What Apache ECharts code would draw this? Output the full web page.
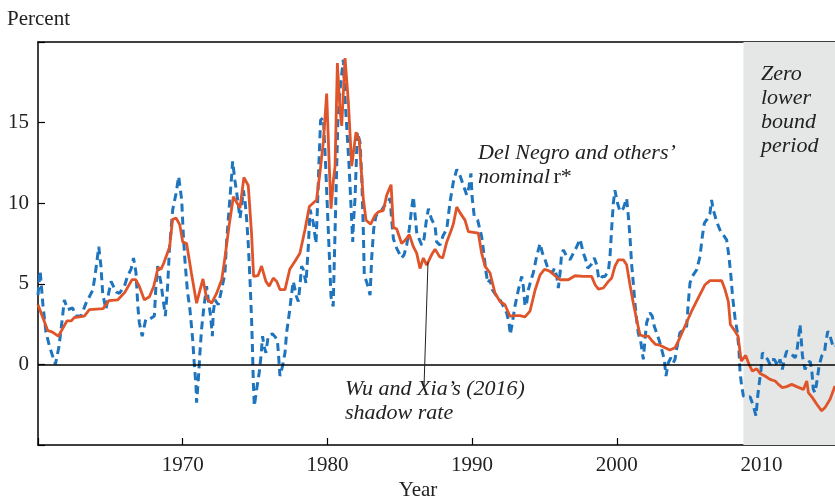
<!DOCTYPE html>
<html>
<head>
<meta charset="utf-8">
<script src="https://cdn.jsdelivr.net/npm/echarts@6/dist/echarts.min.js"></script>
<style>html,body{margin:0;padding:0;background:#fff;overflow:hidden}#c{width:835px;height:502px}</style>
</head>
<body>
<div id="c"></div>
<script>
// Wu and Xia (2016) shadow rate (fed funds before ZLB)
const wuYears = [1960.0,1960.67,1961.0,1961.4,1961.6,1962.0,1962.3,1962.5,1963.2,1963.55,1964.5,1964.9,1965.5,1966.0,1966.5,1966.75,1967.0,1967.35,1967.7,1968.0,1968.3,1968.5,1968.7,1969.1,1969.3,1969.55,1969.8,1970.0,1970.27,1970.6,1970.96,1971.4,1971.65,1972.0,1972.34,1972.7,1972.9,1973.2,1973.5,1973.96,1974.23,1974.53,1974.76,1974.9,1975.2,1975.45,1975.75,1975.98,1976.26,1976.5,1976.72,1977.07,1977.4,1977.76,1978.1,1978.45,1978.75,1979.25,1979.5,1979.72,1979.95,1980.13,1980.25,1980.4,1980.53,1980.69,1980.87,1980.99,1981.22,1981.45,1981.68,1981.98,1982.2,1982.37,1982.48,1982.67,1982.99,1983.29,1983.52,1983.87,1984.1,1984.4,1984.56,1984.79,1985.13,1985.37,1985.66,1985.94,1986.17,1986.4,1986.63,1986.86,1987.2,1987.44,1987.74,1987.97,1988.25,1988.55,1988.7,1988.94,1989.17,1989.51,1989.74,1990.43,1990.66,1990.9,1991.24,1991.58,1991.93,1992.27,1992.62,1992.96,1993.3,1993.66,1994.0,1994.35,1994.7,1995.0,1995.4,1995.73,1996.08,1996.65,1997.11,1997.69,1998.26,1998.5,1998.73,1999.07,1999.42,1999.65,1999.87,2000.1,2000.45,2000.68,2000.91,2001.14,2001.37,2001.6,2001.83,2002.18,2002.4,2002.68,2002.98,2003.33,2003.67,2004.02,2004.25,2004.71,2005.17,2005.63,2006.09,2006.44,2006.9,2007.25,2007.48,2007.71,2007.85,2008.1,2008.38,2008.6,2008.91,2009.14,2009.37,2009.67,2009.9,2010.24,2010.59,2010.94,2011.17,2011.44,2011.74,2012.09,2012.43,2012.9,2013.13,2013.24,2013.52,2013.82,2014.16,2014.39,2014.74,2015.08];
const wuValues = [3.7,2.1,2.0,1.75,2.06,2.7,2.7,2.9,3.0,3.4,3.46,3.96,4.0,4.47,5.26,5.26,4.85,4.0,4.2,4.85,6.0,5.9,6.3,7.3,9.0,9.07,8.66,7.6,7.5,5.67,3.8,5.3,4.1,3.8,4.4,5.26,6.5,8.56,10.4,9.7,11.6,11.1,8.1,5.46,5.5,6.1,5.15,4.85,5.36,5.15,4.64,4.64,5.9,6.4,6.9,8.35,9.8,10.2,12.0,13.8,16.8,12.3,9.66,11.3,12.3,18.7,15.8,14.8,19.0,16.25,12.3,14.4,13.9,11.7,10.3,8.94,8.7,9.25,9.46,9.56,10.5,11.15,8.5,8.4,7.5,7.7,8.05,7.3,6.9,5.95,6.6,6.16,6.8,7.15,6.7,6.6,7.6,8.3,8.7,9.77,9.4,8.95,8.24,8.14,6.9,6.08,5.67,4.43,3.9,3.7,2.99,3.03,3.03,2.95,3.3,4.6,5.56,5.9,5.77,5.5,5.25,5.25,5.5,5.46,5.46,4.94,4.67,4.74,5.15,5.36,6.08,6.49,6.49,6.18,4.94,3.81,2.78,1.85,1.75,1.75,1.5,1.24,1.19,1.03,0.89,1.03,1.44,2.37,3.3,4.12,4.94,5.2,5.2,5.19,4.64,3.9,2.47,2.16,1.75,0.2,0.56,0,-0.41,-0.27,-0.56,-0.72,-0.93,-1.03,-1.24,-1.44,-1.38,-1.24,-1.38,-1.55,-1.03,-1.75,-2.06,-2.47,-2.88,-2.68,-2.16,-1.34];

// Del Negro and others' nominal r*
const dnYears = [1960.0,1960.15,1960.35,1960.55,1960.8,1961.2,1961.45,1961.7,1961.82,1962.05,1962.4,1962.6,1962.97,1963.32,1963.55,1963.78,1963.9,1964.0,1964.2,1964.35,1964.47,1964.7,1964.88,1965.05,1965.4,1965.62,1965.97,1966.2,1966.43,1966.6,1966.77,1966.9,1967.0,1967.2,1967.45,1967.7,1968.04,1968.15,1968.27,1968.5,1968.62,1968.8,1968.96,1969.08,1969.31,1969.54,1969.72,1969.93,1970.04,1970.15,1970.32,1970.5,1970.69,1970.78,1970.92,1970.96,1971.08,1971.19,1971.3,1971.47,1971.65,1971.77,1971.93,1972.05,1972.11,1972.23,1972.46,1972.69,1972.92,1973.04,1973.22,1973.38,1973.45,1973.61,1973.77,1973.96,1974.07,1974.19,1974.3,1974.42,1974.53,1974.65,1974.76,1974.83,1974.88,1974.95,1975.11,1975.29,1975.41,1975.52,1975.62,1975.75,1975.91,1976.2,1976.54,1976.63,1976.72,1976.9,1977.07,1977.18,1977.37,1977.53,1977.64,1977.87,1977.99,1978.1,1978.22,1978.33,1978.52,1978.68,1978.8,1979.03,1979.21,1979.3,1979.44,1979.53,1979.72,1979.88,1980.1,1980.25,1980.4,1980.55,1980.72,1980.87,1981.1,1981.25,1981.5,1981.64,1981.75,1981.8,1981.91,1982.07,1982.25,1982.37,1982.48,1982.55,1982.72,1982.95,1983.06,1983.2,1983.36,1983.6,1983.9,1984.2,1984.33,1984.44,1984.56,1984.79,1985.13,1985.3,1985.48,1985.66,1985.82,1985.94,1986.06,1986.17,1986.33,1986.52,1986.68,1986.82,1986.98,1987.2,1987.44,1987.55,1987.78,1988.0,1988.25,1988.48,1988.7,1988.94,1989.17,1989.4,1989.63,1989.78,1989.92,1990.0,1990.15,1990.38,1990.66,1990.78,1990.94,1991.08,1991.24,1991.4,1991.7,1991.93,1992.16,1992.39,1992.55,1992.64,1992.78,1992.96,1993.2,1993.43,1993.54,1993.66,1993.77,1993.89,1994.07,1994.23,1994.46,1994.58,1994.7,1994.86,1995.04,1995.27,1995.55,1995.69,1995.85,1995.96,1996.08,1996.19,1996.31,1996.54,1996.77,1997.0,1997.23,1997.46,1997.69,1997.85,1997.99,1998.22,1998.45,1998.61,1998.73,1998.84,1999.0,1999.18,1999.42,1999.53,1999.65,1999.76,1999.87,2000.05,2000.22,2000.45,2000.68,2000.8,2000.91,2001.02,2001.14,2001.25,2001.37,2001.48,2001.67,2001.83,2001.95,2002.06,2002.29,2002.45,2002.59,2002.75,2002.91,2003.1,2003.28,2003.4,2003.56,2003.74,2003.9,2004.02,2004.13,2004.36,2004.6,2004.83,2004.94,2005.06,2005.22,2005.52,2005.75,2005.91,2006.05,2006.21,2006.44,2006.55,2006.67,2006.9,2007.13,2007.36,2007.59,2007.75,2007.89,2008.0,2008.17,2008.33,2008.44,2008.52,2008.63,2008.75,2008.98,2009.21,2009.44,2009.62,2009.74,2009.85,2009.97,2010.06,2010.24,2010.42,2010.59,2010.71,2010.89,2010.98,2011.12,2011.28,2011.44,2011.58,2011.74,2011.97,2012.32,2012.43,2012.55,2012.66,2012.73,2012.83,2013.01,2013.2,2013.36,2013.47,2013.58,2013.7,2013.82,2013.98,2014.16,2014.35,2014.44,2014.58,2014.74,2014.97,2015.08];
const dnValues = [4.3,5.8,3.6,2.0,1.1,0.0,1.1,3.0,4.0,3.4,3.5,3.0,3.0,3.8,4.2,4.6,5.26,5.9,7.3,6.1,4.4,3.4,4.4,5.15,4.5,4.4,4.85,5.5,5.9,6.6,5.7,3.6,2.6,1.75,2.8,2.8,3.0,4.85,6.1,5.05,4.2,3.0,4.85,7.1,9.6,10.6,11.65,10.2,8.1,6.5,4.6,3.4,1.55,0.3,-1.34,-2.37,-0.93,0.72,2.16,3.6,4.85,4.0,3.0,1.75,3.2,4.0,3.7,4.64,5.67,7.7,9.8,11.65,12.6,11.4,10.4,9.07,9.8,10.8,10.2,9.0,7.5,5.26,2.8,0.72,-1.1,-2.58,-1.55,-0.5,0.5,1.75,1.13,0.72,1.75,1.9,1.55,0.5,-0.72,-0.1,0.72,1.96,3.2,4.4,5.15,4.2,3.9,4.85,6.1,5.9,5.05,7.3,9.6,8.76,7.5,9.4,13.1,15.15,15.3,12.3,7.5,4.2,3.6,9.0,15.0,17.0,18.9,16.0,12.3,9.66,7.6,8.8,10.3,14.4,13.8,11.7,8.4,5.5,5.1,4.3,6.6,8.4,9.25,9.3,9.8,10.1,10.3,9.0,7.8,7.2,6.6,6.8,7.4,8.4,9.66,10.4,9.25,8.2,7.8,7.4,7.8,8.8,9.66,9.0,8.6,7.6,7.4,8.0,8.4,10.1,11.3,12.1,11.7,11.1,10.5,11.0,11.85,10.4,9.17,8.96,7.93,7.1,5.87,5.05,5.25,4.64,4.22,4.0,3.6,3.2,2.58,1.85,2.58,3.6,4.64,5.46,4.84,3.6,3.8,4.64,5.25,5.67,6.7,7.1,7.5,6.9,6.5,5.87,5.67,5.97,5.46,4.74,5.67,6.9,7.1,6.7,6.5,6.9,7.3,7.77,6.9,6.5,5.97,6.18,6.6,6.18,5.46,5.25,5.46,5.45,5.8,6.7,8.5,10.0,10.8,10.0,9.48,9.68,10.3,9.17,7.93,6.28,5.05,3.81,2.78,1.96,1.34,0.31,1.55,2.58,3.2,3.0,2.37,1.96,1.55,0.93,0.31,-0.72,0.1,0.41,0.1,0.31,0.93,1.96,2.16,2.37,3.81,5.05,5.46,5.87,6.7,7.93,8.76,8.96,9.37,10.2,9.58,8.86,8.34,8.03,7.73,6.7,5.46,4.22,2.9,2.0,0.93,-0.5,-1.34,-1.96,-2.06,-2.0,-2.58,-3.19,-1.96,-1.13,-0.31,0.72,0.52,0.31,0.0,0.31,0.31,0.41,-0.1,0.31,-0.31,0.31,0.82,0.72,0.41,0.72,1.55,2.47,1.75,0.52,-0.31,0.1,0.2,-0.31,-1.55,-1.75,-1.13,-0.1,0.52,0.72,1.34,2.06,1.75,1.03,1.13];

const xTickLabels = [1970, 1980, 1990, 2000, 2010];
const yTickLabels = [0, 5, 10, 15];
const zlbStart = 2008.75;
const xMin = 1960, xMax = 2015.08;

const zip = (a, b) => a.map((v, i) => [v, b[i]]);
const SERIF = '"Liberation Serif", "DejaVu Serif", serif';

const chart = echarts.init(document.getElementById('c'), null, {renderer: 'canvas', width: 835, height: 502});
const axisLineStyle = {color: '#000', width: 1.5};
chart.setOption({
  animation: false,
  backgroundColor: '#fff',
  grid: {left: 38, right: 0, top: 42, bottom: 57, containLabel: false, outerBoundsMode: 'none'},
  xAxis: [{
    type: 'value', min: xMin, max: xMax, interval: 10, position: 'bottom',
    axisLine: {show: true, lineStyle: axisLineStyle, onZero: false},
    axisTick: {show: true, inside: true, length: 7, lineStyle: {color: '#000', width: 1.2}},
    axisLabel: {margin: 10, fontFamily: SERIF, fontSize: 21, color: '#222',
      formatter: v => xTickLabels.includes(Math.round(v)) ? String(Math.round(v)) : ''},
    splitLine: {show: false}
  }, {
    type: 'value', min: xMin, max: xMax, position: 'top',
    axisLine: {show: true, lineStyle: axisLineStyle, onZero: false},
    axisTick: {show: false}, axisLabel: {show: false}, splitLine: {show: false}
  }],
  yAxis: {
    type: 'value', min: -5, max: 20, interval: 5,
    axisLine: {show: true, lineStyle: axisLineStyle, onZero: false},
    axisTick: {show: true, inside: true, length: 7, lineStyle: {color: '#000', width: 1.2}},
    axisLabel: {margin: 9, fontFamily: SERIF, fontSize: 21, color: '#222',
      formatter: v => yTickLabels.includes(v) ? String(v) : ''},
    splitLine: {show: false}
  },
  series: [
    {
      type: 'line', data: [], silent: true, z: 1,
      markArea: {silent: true, itemStyle: {color: '#e5e6e6'},
        data: [[{xAxis: zlbStart}, {xAxis: xMax}]]},
      markLine: {silent: true, symbol: 'none', label: {show: false},
        lineStyle: {color: '#000', width: 1.5, type: 'solid'},
        data: [{yAxis: 0}]}
    },
    {
      name: "Del Negro and others' nominal r*", type: 'line', z: 3,
      data: zip(dnYears, dnValues), showSymbol: false, smooth: false,
      lineStyle: {color: '#1f75bd', width: 3, type: [8, 5]}
    },
    {
      name: "Wu and Xia's (2016) shadow rate", type: 'line', z: 4,
      data: zip(wuYears, wuValues), showSymbol: false, smooth: false,
      lineStyle: {color: '#e0542a', width: 2.8}
    }
  ],
  graphic: [
    {type: 'text', z: 100, x: 7, y: 9, style: {text: 'Percent', font: '21px ' + SERIF, fill: '#222'}},
    {type: 'text', z: 100, x: 418, y: 480, style: {text: 'Year', font: '21px ' + SERIF, fill: '#222', align: 'center'}},
    {type: 'text', z: 100, x: 761, y: 62, style: {text: 'Zero\nlower\nbound\nperiod', font: 'italic 22px ' + SERIF, fill: '#222', align: 'left', lineHeight: 24}},
    {type: 'text', z: 100, x: 478, y: 141, style: {
      text: "{i|Del Negro and others’}\n{i|nominal} {n|r*}",
      rich: {i: {font: 'italic 22px ' + SERIF, fill: '#222', lineHeight: 24}, n: {font: '22px ' + SERIF, fill: '#222', lineHeight: 24}}
    }},
    {type: 'text', z: 100, x: 345, y: 377, style: {text: 'Wu and Xia’s (2016)\nshadow rate', font: 'italic 22px ' + SERIF, fill: '#222', lineHeight: 24}},
    {type: 'line', z: 100, shape: {x1: 428, y1: 262, x2: 424, y2: 387}, style: {stroke: '#222', lineWidth: 1}}
  ]
});
</script>
</body>
</html>
